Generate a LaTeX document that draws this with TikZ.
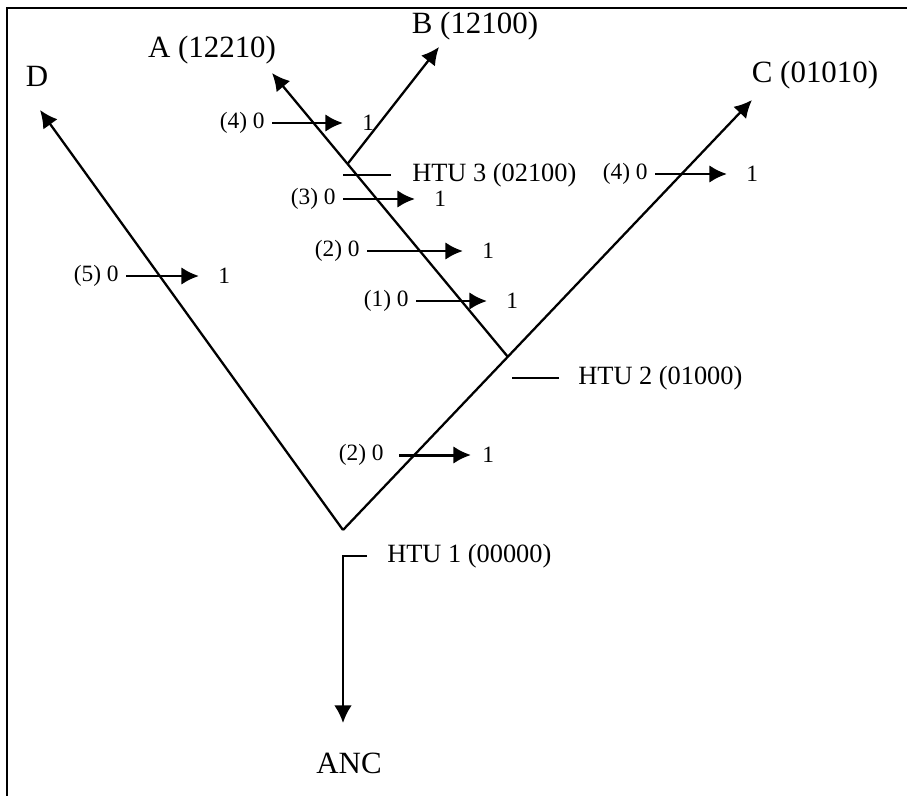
\documentclass[tikz,border=0pt]{standalone}
\usepackage{fontspec}
\setmainfont{Liberation Serif}
\usetikzlibrary{arrows.meta, positioning}

\begin{document}
\begin{tikzpicture}[
  >={Latex[length=10pt,width=10pt]},
  branch/.style={line width=1.3pt},
  tick/.style={line width=1pt},
  mut/.style={->, line width=1.7pt, shorten <=0.14cm, shorten >=0.38cm},
  taxon/.style={inner sep=0pt, font=\fontsize{17.6}{20}\selectfont},
  htu/.style={inner sep=0pt, anchor=west, font=\fontsize{15}{18}\selectfont},
  lab/.style={inner sep=0pt, font=\fontsize{13.3}{16}\selectfont}
]
  \useasboundingbox (0,0) rectangle (18.14,15.92);
  \draw[line width=1.6pt] (18.14,15.76) -| (0.14,0);

  \coordinate (h1) at (6.86, 5.32);
  \coordinate (h2) at (10.16, 8.78);
  \coordinate (h3) at (6.95, 12.64);
  \coordinate (tD) at (0.80, 13.72);
  \coordinate (tA) at (5.44, 14.46);
  \coordinate (tB) at (8.78, 14.98);
  \coordinate (tC) at (15.04, 13.92);
  \coordinate (tAnc) at (6.86, 1.46);

  \node[taxon] (D) at (0.74, 14.40) {D};
  \node[taxon] (A) at (4.24, 14.92) {A (12210)};
  \node[taxon] (B) at (9.50, 15.40) {B (12100)};
  \node[taxon] (C) at (16.30, 14.42) {C (01010)};
  \node[taxon] (anc) at (6.98, 0.66) {ANC};

  \node[htu] (n1) at (7.74, 4.80) {HTU 1 (00000)};
  \node[htu] (n2) at (11.56, 8.36) {HTU 2 (01000)};
  \node[htu] (n3) at (8.24, 12.42) {HTU 3 (02100)};

  \draw[branch, ->] (h1) -- (tD);
  \draw[branch, ->] (h1) -- (tC);
  \draw[branch, ->] (h2) -- (tA);
  \draw[branch, ->] (h3) -- (tB);
  \draw[branch, ->] ([xshift=-0.40cm]n1.west) -| (tAnc);
  \draw[tick] ([xshift=-0.38cm]n2.west) -- ++(-0.94,0);
  \draw[tick] ([xshift=-0.42cm]n3.west) -- ++(-0.96,0);

  \node[lab, left] (m5a) at (2.38, 10.40) {(5) 0};
  \node[lab, right] (m5b) at (4.36, 10.40) {1};
  \node[lab, left] (m4a) at (5.30, 13.46) {(4) 0};
  \node[lab, right] (m4b) at (7.24, 13.46) {1};
  \node[lab, left] (m3a) at (6.72, 11.94) {(3) 0};
  \node[lab, right] (m3b) at (8.68, 11.94) {1};
  \node[lab, left] (m2a) at (7.20, 10.90) {(2) 0};
  \node[lab, right] (m2b) at (9.64, 10.90) {1};
  \node[lab, left] (m1a) at (8.18, 9.90) {(1) 0};
  \node[lab, right] (m1b) at (10.12, 9.90) {1};
  \node[lab, left] (c4a) at (12.96, 12.44) {(4) 0};
  \node[lab, right] (c4b) at (14.92, 12.44) {1};
  \node[lab, left] (c2a) at (7.68, 6.82) {(2) 0};
  \node[lab, right] (c2b) at (9.64, 6.82) {1};

  \draw[mut] (m5a) -- (m5b);
  \draw[mut] (m4a) -- (m4b);
  \draw[mut] (m3a) -- (m3b);
  \draw[mut] (m2a) -- (m2b);
  \draw[mut] (m1a) -- (m1b);
  \draw[mut] (c4a) -- (c4b);
  \draw[mut, shorten <=0.30cm, shorten >=0.22cm] (c2a) -- (c2b);
\end{tikzpicture}
\end{document}
